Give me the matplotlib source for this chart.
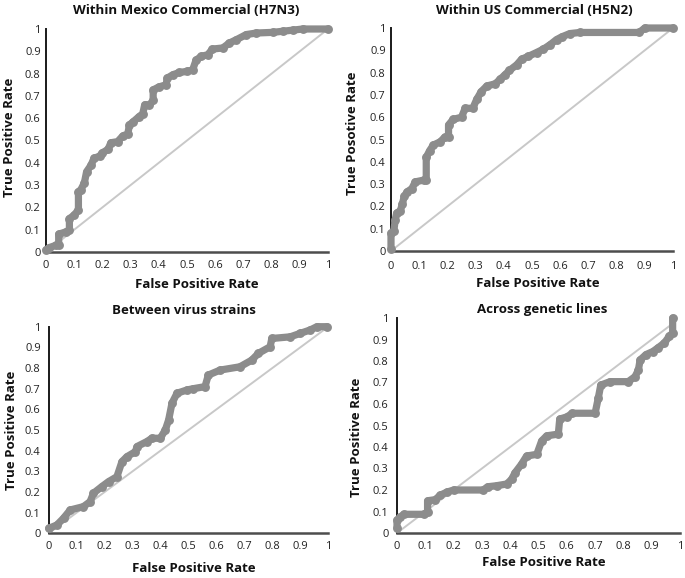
import matplotlib
matplotlib.use("Agg")
import matplotlib.pyplot as plt

plt.rcParams['font.family'] = ['Open Sans', 'DejaVu Sans']

# ---------------- data ----------------
ticks = [0, 0.1, 0.2, 0.3, 0.4, 0.5, 0.6, 0.7, 0.8, 0.9, 1]
tick_labels = ["0", "0.1", "0.2", "0.3", "0.4", "0.5", "0.6", "0.7", "0.8", "0.9", "1"]

titles = ["Within Mexico Commercial (H7N3)", "Within US Commercial (H5N2)",
          "Between virus strains", "Across genetic lines"]
ylabels = ["True Positive Rate", "True Posotive Rate", "True Positive Rate", "True Positive Rate"]
xlabel = "False Positive Rate"

fpr1 = [0, 0.012, 0.035, 0.045, 0.045, 0.07, 0.083, 0.083, 0.1, 0.115, 0.115, 0.124, 0.136, 0.144,
        0.16, 0.17, 0.19, 0.2, 0.22, 0.23, 0.254, 0.272, 0.29, 0.296, 0.31, 0.33, 0.343, 0.35, 0.367,
        0.38, 0.38, 0.40, 0.426, 0.43, 0.45, 0.473, 0.5, 0.52, 0.532, 0.55, 0.574, 0.59, 0.627, 0.65,
        0.675, 0.71, 0.746, 0.805, 0.84, 0.876, 0.91, 1.0]
tpr1 = [0.01, 0.02, 0.03, 0.03, 0.08, 0.09, 0.1, 0.15, 0.165, 0.19, 0.27, 0.28, 0.31, 0.36, 0.39,
        0.42, 0.43, 0.445, 0.46, 0.49, 0.495, 0.52, 0.53, 0.57, 0.585, 0.607, 0.62, 0.66, 0.66, 0.68,
        0.727, 0.74, 0.75, 0.78, 0.795, 0.805, 0.81, 0.817, 0.86, 0.877, 0.885, 0.91, 0.915, 0.937,
        0.952, 0.975, 0.982, 0.985, 0.99, 0.995, 1.0, 1.0]

fpr2 = [0, 0, 0.01, 0.015, 0.02, 0.033, 0.04, 0.047, 0.057, 0.074, 0.086, 0.116, 0.125, 0.125,
        0.137, 0.15, 0.175, 0.19, 0.204, 0.204, 0.22, 0.25, 0.263, 0.29, 0.304, 0.32, 0.34, 0.37,
        0.387, 0.404, 0.42, 0.446, 0.463, 0.487, 0.516, 0.54, 0.564, 0.587, 0.605, 0.634, 0.67,
        0.88, 0.9, 1.0]
tpr2 = [0.01, 0.08, 0.09, 0.14, 0.17, 0.18, 0.21, 0.245, 0.265, 0.28, 0.31, 0.318, 0.318, 0.42,
        0.45, 0.475, 0.49, 0.51, 0.51, 0.565, 0.59, 0.6, 0.64, 0.64, 0.68, 0.715, 0.74, 0.75, 0.77,
        0.79, 0.81, 0.835, 0.86, 0.873, 0.89, 0.905, 0.925, 0.948, 0.96, 0.975, 0.98, 0.98, 1.0, 1.0]

fpr3 = [0, 0.029, 0.053, 0.077, 0.124, 0.148, 0.16, 0.19, 0.214, 0.244, 0.262, 0.28, 0.31, 0.316,
        0.351, 0.369, 0.399, 0.417, 0.429, 0.441, 0.459, 0.495, 0.517, 0.559, 0.571, 0.613, 0.684,
        0.726, 0.75, 0.792, 0.798, 0.864, 0.9, 0.935, 0.959, 0.995]
tpr3 = [0.024, 0.04, 0.073, 0.113, 0.129, 0.153, 0.194, 0.226, 0.25, 0.274, 0.347, 0.371, 0.395,
        0.42, 0.444, 0.46, 0.46, 0.5, 0.549, 0.63, 0.678, 0.694, 0.7, 0.71, 0.766, 0.79, 0.806,
        0.838, 0.871, 0.903, 0.943, 0.951, 0.968, 0.984, 1.0, 1.0]

fpr4 = [0, 0, 0.012, 0.024, 0.094, 0.108, 0.108, 0.135, 0.153, 0.176, 0.2, 0.305, 0.32, 0.352,
        0.388, 0.405, 0.417, 0.44, 0.458, 0.494, 0.511, 0.529, 0.57, 0.575, 0.6, 0.62, 0.70, 0.711,
        0.72, 0.753, 0.817, 0.841, 0.853, 0.859, 0.88, 0.904, 0.921, 0.945, 0.962, 0.974, 0.974]
tpr4 = [0.025, 0.06, 0.075, 0.087, 0.087, 0.098, 0.15, 0.155, 0.176, 0.19, 0.2, 0.2, 0.215, 0.22,
        0.228, 0.25, 0.28, 0.32, 0.358, 0.366, 0.428, 0.452, 0.46, 0.53, 0.54, 0.557, 0.557, 0.626,
        0.688, 0.704, 0.704, 0.727, 0.758, 0.805, 0.83, 0.844, 0.86, 0.884, 0.915, 0.93, 1.0]

diag_x = [[0, 1], [0, 1], [0, 1], [0, 0.97]]
diag_y = [[0, 1], [0, 1], [0, 1], [0, 0.97]]

curves = [(fpr1, tpr1), (fpr2, tpr2), (fpr3, tpr3), (fpr4, tpr4)]

# ---------------- layout (pixels) ----------------
W, H = 685, 578
# (x0, x1, y_top, y_bottom) of each plot area in pixels
boxes = [(46, 328, 29, 252), (391, 673, 28, 251), (48.7, 328.3, 326.7, 533.3), (397, 680, 318, 533)]
title_pos = [(186, 10), (534, 10), (184, 311), (542, 309)]
xlabel_pos = [(197, 284), (538, 283), (194, 569), (544, 562)]
ylabel_pos = [(10, 137), (353, 133), (12, 430), (357, 437)]
ypads = [3.8, 3.8, 5.8, 6.2]
xpads = [6.0, 7.0, 5.5, 5.5]

fig = plt.figure(figsize=(W / 100, H / 100), dpi=100)
fig.patch.set_facecolor("white")

curve_color = "#8c8c8c"
diag_color = "#c8c8c8"

for i in range(4):
    x0, x1, yt, yb = boxes[i]
    ax = fig.add_axes([x0 / W, 1 - yb / H, (x1 - x0) / W, (yb - yt) / H])
    ax.plot(diag_x[i], diag_y[i], color=diag_color, lw=1.4, zorder=2, solid_capstyle="butt")
    fx, ty = curves[i]
    ax.plot(fx, ty, color=curve_color, lw=5.2, marker="o", ms=6.4, mec="none",
            solid_joinstyle="round", solid_capstyle="round", zorder=3, clip_on=False)
    ax.set_xlim(0, 1)
    ax.set_ylim(0, 1)
    ax.set_xticks(ticks)
    ax.set_xticklabels(tick_labels)
    ax.set_yticks(ticks)
    ax.set_yticklabels(tick_labels)
    ax.tick_params(axis="both", length=0, labelsize=8, colors="#222222")
    ax.tick_params(axis="y", pad=ypads[i])
    ax.tick_params(axis="x", pad=xpads[i])
    for s in ["top", "right"]:
        ax.spines[s].set_visible(False)
    ax.spines["left"].set_color("#1a1a1a")
    ax.spines["left"].set_linewidth(1.4)
    ax.spines["bottom"].set_color("#4d4d4d")
    ax.spines["bottom"].set_linewidth(1.8)
    ax.set_facecolor("none")

    tx, tyy = title_pos[i]
    fig.text(tx / W, 1 - tyy / H, titles[i], ha="center", va="center",
             fontsize=9.5, fontweight="bold", color="#111111")
    lx, ly = xlabel_pos[i]
    fig.text(lx / W, 1 - ly / H, xlabel, ha="center", va="center",
             fontsize=9.5, fontweight="bold", color="#111111")
    yx, yy = ylabel_pos[i]
    fig.text(yx / W, 1 - yy / H, ylabels[i], ha="center", va="center", rotation=90,
             fontsize=9.5, fontweight="bold", color="#111111")

fig.savefig("out.png", dpi=100, facecolor="white")
